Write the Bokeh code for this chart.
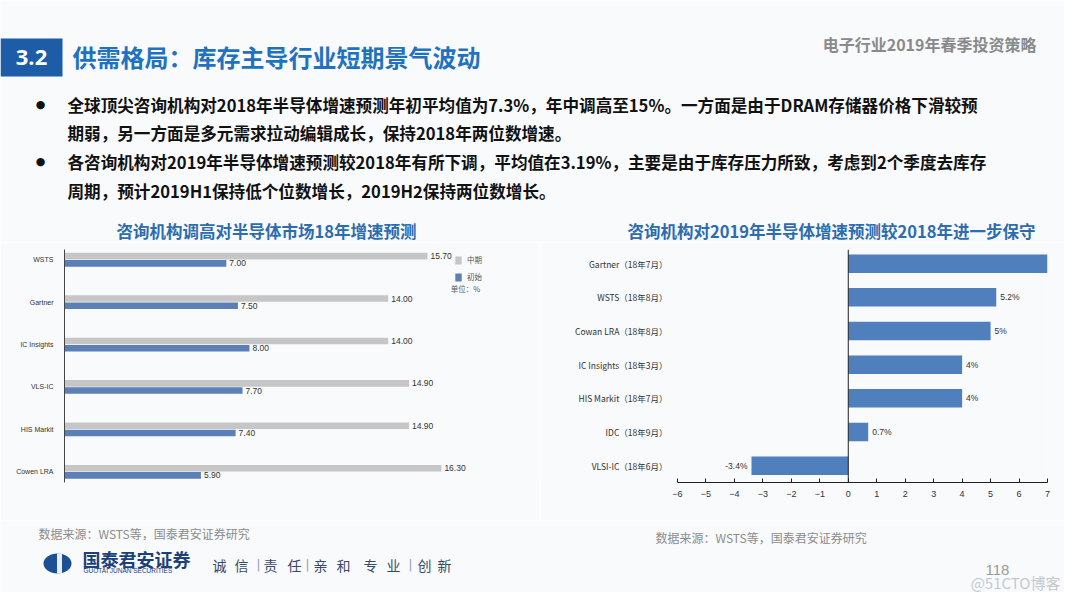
from bokeh.plotting import figure
from bokeh.models import (Range1d, Label, LabelSet, ColumnDataSource, FixedTicker,
                          Span, BoxAnnotation, Legend, LegendItem)
from bokeh.layouts import column, row
from bokeh.transform import dodge
from bokeh.embed import file_html
from bokeh.resources import INLINE
from bokeh.core.properties import value

# ---------------- data ----------------
left_categories = ["WSTS", "Gartner", "IC Insights", "VLS-IC", "HIS Markit", "Cowen LRA"]
left_mid = [15.70, 14.00, 14.00, 14.90, 14.90, 16.30]
left_init = [7.00, 7.50, 8.00, 7.70, 7.40, 5.90]
left_series = ["中期", "初始"]

right_categories = ["Gartner（18年7月）", "WSTS（18年8月）", "Cowan LRA（18年8月）",
                    "IC Insights（18年3月）", "HIS Markit（18年7月）", "IDC（18年9月）",
                    "VLSI-IC（18年6月）"]
right_values = [7, 5.2, 5, 4, 4, 0.7, -3.4]
right_ticks = [-6, -5, -4, -3, -2, -1, 0, 1, 2, 3, 4, 5, 6, 7]

slide_title = "供需格局：库存主导行业短期景气波动"
bullet_lines = [
    "全球顶尖咨询机构对2018年半导体增速预测年初平均值为7.3%，年中调高至15%。一方面是由于DRAM存储器价格下滑较预",
    "期弱，另一方面是多元需求拉动编辑成长，保持2018年两位数增速。",
    "各咨询机构对2019年半导体增速预测较2018年有所下调，平均值在3.19%，主要是由于库存压力所致，考虑到2个季度去库存",
    "周期，预计2019H1保持低个位数增长，2019H2保持两位数增长。",
]
left_title = "咨询机构调高对半导体市场18年增速预测"
right_title = "咨询机构对2019年半导体增速预测较2018年进一步保守"
source_note = "数据来源：WSTS等，国泰君安证券研究"

# ---------------- style ----------------
BG = "#f8fafc"
CJK = "Noto Sans CJK SC"
LAT = "Liberation Sans"
GREY = "#c6c6c6"
BLUE_L = "#5b7fb7"
BLUE_R = "#4f7fbd"
TITLE_BLUE = "#1f72c0"
CHART_TITLE = "#2c6caf"


def base(w, h, xr, yr, **kw):
    p = figure(width=w, height=h, x_range=xr, y_range=yr, output_backend="svg",
               toolbar_location=None, **kw)
    p.background_fill_color = BG
    p.border_fill_color = BG
    p.outline_line_color = None
    p.grid.visible = False
    return p


def lab(p, x, y, text, size, color, bold=False, align="left", font=CJK):
    p.add_layout(Label(x=x, y=y, text=text, text_font=font, text_font_size=size,
                       text_color=color, text_font_style="bold" if bold else "normal",
                       text_align=align, text_baseline="middle"))


# ---------------- header ----------------
H_H = 242
hd = base(1064, H_H, Range1d(0, 1064), Range1d(H_H, 0), min_border=0)
hd.axis.visible = False
hd.add_layout(BoxAnnotation(left=0, right=62, top=38, bottom=76,
                            fill_color="#1d5ca6", fill_alpha=1, line_color=None))
lab(hd, 31, 57, "3.2", "22px", "white", bold=True, align="center", font="Open Sans")
lab(hd, 72, 56, slide_title, "24px", TITLE_BLUE, bold=True)
lab(hd, 1036, 43, "电子行业2019年春季投资策略", "16px", "#8a8a8a", bold=True, align="right")
for yy in (104, 161):
    lab(hd, 40, yy, "●", "11px", "#111111", align="center", font="DejaVu Sans")
for yy, t in zip((104, 132, 161, 190), bullet_lines):
    lab(hd, 67, yy, t, "16.6px", "#111111", bold=True)
lab(hd, 266, 230, left_title, "16.5px", CHART_TITLE, bold=True, align="center")
lab(hd, 831, 230, right_title, "16.5px", CHART_TITLE, bold=True, align="center")

# ---------------- left chart ----------------
idx = list(range(len(left_categories)))
srcL = ColumnDataSource(dict(
    y=idx, mid=left_mid, init=left_init,
    mid_txt=[f"{v:.2f}" for v in left_mid],
    init_txt=[f"{v:.2f}" for v in left_init],
))
OFF = 0.085
pl = base(540, 278, Range1d(0, 20.5), Range1d(5.253, -0.242),
          min_border_left=64, min_border_right=2, min_border_top=7, min_border_bottom=10)
r_mid = pl.hbar(y=dodge("y", -OFF), left=0, right="mid", height=0.155,
                fill_color=GREY, line_color=None, source=srcL)
r_init = pl.hbar(y=dodge("y", OFF), left=0, right="init", height=0.155,
                 fill_color=BLUE_L, line_color=None, source=srcL)
for fld, txt, dy in (("mid", "mid_txt", -OFF), ("init", "init_txt", OFF)):
    pl.add_layout(LabelSet(x=fld, y=dodge("y", dy), text=txt, source=srcL, x_offset=3,
                           text_baseline="middle", text_align="left",
                           text_font=value(LAT), text_font_size="8.5px",
                           text_color="#333333"))
pl.xaxis.visible = False
pl.yaxis.ticker = FixedTicker(ticks=idx)
pl.yaxis.major_label_overrides = {i: c for i, c in zip(idx, left_categories)}
pl.yaxis.major_tick_line_color = None
pl.yaxis.minor_tick_line_color = None
pl.yaxis.axis_line_color = "#444444"
pl.yaxis.major_label_text_font = LAT
pl.yaxis.major_label_text_font_size = "7px"
pl.yaxis.major_label_text_color = "#333333"
pl.yaxis.major_label_standoff = 5
legend = Legend(items=[LegendItem(label=left_series[0], renderers=[r_mid]),
                       LegendItem(label=left_series[1], renderers=[r_init])],
                location=(390, 200), glyph_width=8, glyph_height=10, label_height=10,
                spacing=6, padding=0, margin=0, border_line_color=None,
                background_fill_alpha=0, label_text_font=CJK,
                label_text_font_size="7.5px", label_text_color="#555555",
                label_standoff=5)
pl.add_layout(legend)
lab(pl, 16.7, 0.684, "单位：%", "7.5px", "#555555")

# ---------------- right chart ----------------
ridx = list(range(len(right_categories)))
srcR = ColumnDataSource(dict(y=ridx, v=right_values))
pos = [i for i, v in enumerate(right_values) if v >= 0]
neg = [i for i, v in enumerate(right_values) if v < 0]
srcP = ColumnDataSource(dict(y=[ridx[i] for i in pos], v=[right_values[i] for i in pos],
                             t=[f"{right_values[i]:g}%" for i in pos]))
srcN = ColumnDataSource(dict(y=[ridx[i] for i in neg], v=[right_values[i] for i in neg],
                             t=[f"{right_values[i]:g}%" for i in neg]))
pr = base(524, 278, Range1d(right_ticks[0], right_ticks[-1]), Range1d(6.5, -0.42),
          min_border_left=137, min_border_right=17, min_border_top=0, min_border_bottom=38)
pr.hbar(y="y", left=0, right="v", height=0.55, fill_color=BLUE_R, line_color=None,
        source=srcR)
pr.add_layout(Span(location=0, dimension="height", line_color="#222222", line_width=1))
pr.add_layout(LabelSet(x="v", y="y", text="t", source=srcP, x_offset=4,
                       text_baseline="middle", text_align="left",
                       text_font=value(LAT), text_font_size="8.5px",
                       text_color="#333333"))
pr.add_layout(LabelSet(x="v", y="y", text="t", source=srcN, x_offset=-4,
                       text_baseline="middle", text_align="right",
                       text_font=value(LAT), text_font_size="8.5px",
                       text_color="#333333"))
pr.xaxis.ticker = FixedTicker(ticks=right_ticks)
pr.xaxis.major_tick_in = 4
pr.xaxis.major_tick_out = 0
pr.xaxis.minor_tick_line_color = None
pr.xaxis.axis_line_color = "#222222"
pr.xaxis.major_tick_line_color = "#222222"
pr.xaxis.major_label_text_font = LAT
pr.xaxis.major_label_text_font_size = "9px"
pr.xaxis.major_label_text_color = "#333333"
pr.xaxis.major_label_standoff = 8
pr.yaxis.ticker = FixedTicker(ticks=ridx)
pr.yaxis.major_label_overrides = {i: c for i, c in zip(ridx, right_categories)}
pr.yaxis.axis_line_color = None
pr.yaxis.major_tick_line_color = None
pr.yaxis.minor_tick_line_color = None
pr.yaxis.major_label_text_font = CJK
pr.yaxis.major_label_text_font_size = "8.5px"
pr.yaxis.major_label_text_color = "#333333"
pr.yaxis.major_label_standoff = 4
pr.add_layout(Label(x=7.45, y=6.5, text="%", text_font=LAT, text_font_size="11px",
                    text_color="#333333", text_align="center", text_baseline="middle"))

# ---------------- footer ----------------
F_H = 72
ft = base(1064, F_H, Range1d(0, 1064), Range1d(F_H, 0), min_border=0)
ft.axis.visible = False
lab(ft, 38, 13, source_note, "12px", "#8c8c8c")
lab(ft, 655, 17, source_note, "12px", "#8c8c8c")
ft.ellipse(x=[57], y=[43], width=28, height=20, fill_color="#1c4f93", line_color=None)
ft.rect(x=[59], y=[43], width=5, height=20, fill_color="#e8eef6", line_color=None)
lab(ft, 82, 38, "国泰君安证券", "18px", "#1d3f7a", bold=True)
lab(ft, 83, 50, "GUOTAI JUNAN SECURITIES", "6.5px", "#1d3f7a", font=LAT)
slogan = ["诚", "信", "责", "任", "亲", "和", "专", "业", "创", "新"]
slogan_x = [219, 241, 270, 294, 320, 343, 370, 393, 424, 444]
for ch, xx in zip(slogan, slogan_x):
    lab(ft, xx, 44, ch, "14px", "#3a4a66", align="center")
for xx in (258, 307, 410):
    lab(ft, xx, 44, "|", "13px", "#9aa4b4", align="center", font="DejaVu Sans")
lab(ft, 997, 49, "118", "15px", "#9a9a9a", align="center", font=LAT)
lab(ft, 1060, 62, "@51CTO博客", "15px", "#c5c9cf", align="right")

layout = column(hd, row(pl, pr), ft)
open("out.html", "w").write(file_html(layout, INLINE))
